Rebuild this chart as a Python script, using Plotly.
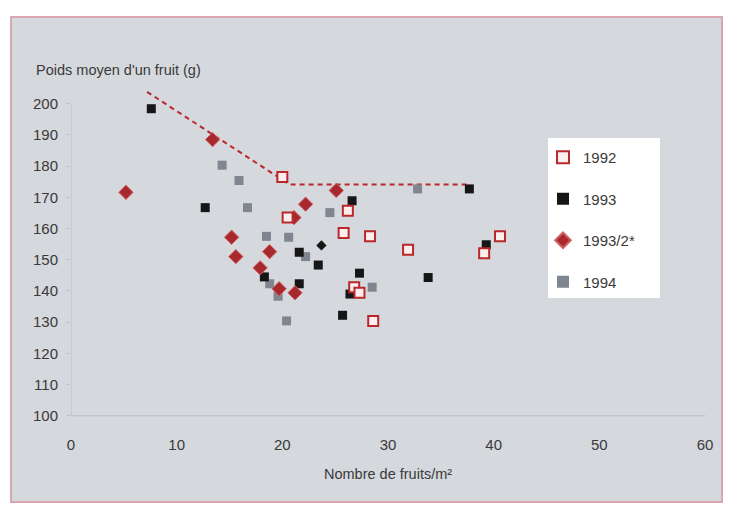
import plotly.graph_objects as go

# --- données (nombre de fruits/m², poids moyen en g) ---
x_1992 = [20.0, 20.5, 26.2, 25.8, 28.3, 31.9, 39.1, 40.6, 26.8, 27.3, 28.6]
y_1992 = [176.5, 163.5, 165.7, 158.6, 157.5, 153.2, 152.1, 157.5, 141.2, 139.4, 130.4]

x_1993 = [7.6, 12.7, 26.6, 37.7, 21.6, 23.4, 18.3, 21.6, 27.3, 26.4, 33.8, 39.3, 25.7]
y_1993 = [198.4, 166.7, 168.9, 172.7, 152.4, 148.3, 144.5, 142.3, 145.7, 139.0, 144.3, 154.8, 132.2]

# petit losange noir isolé
x_1993_pt = [23.7]
y_1993_pt = [154.6]

x_1993_2 = [5.2, 13.4, 25.1, 22.2, 21.1, 15.2, 15.6, 18.8, 17.9, 19.7, 21.2]
y_1993_2 = [171.6, 188.5, 172.2, 167.8, 163.5, 157.2, 151.0, 152.6, 147.4, 140.7, 139.4]

x_1994 = [14.3, 15.9, 16.7, 24.5, 18.5, 20.6, 22.2, 18.8, 19.6, 28.5, 20.4, 32.8]
y_1994 = [180.3, 175.4, 166.7, 165.1, 157.5, 157.2, 151.0, 142.3, 138.3, 141.2, 130.4, 172.7]

# enveloppe (pointillés rouges)
x_enveloppe = [7.2, 20.7, 37.5]
y_enveloppe = [203.8, 174.1, 174.1]

x_ticks = [0, 10, 20, 30, 40, 50, 60]
y_ticks = [100, 110, 120, 130, 140, 150, 160, 170, 180, 190, 200]

W, H = 731, 507
L, R, T, B = 71, 26, 85, 85
X_RANGE = [0, 60]
Y_RANGE = [98, 206]

FONT = "Liberation Sans, Arial, sans-serif"
TXT = "#3a3a3a"
RED = "#b8282c"
BG = "#d5d8dd"
AXE = "#b9bcc3"


def px_x(px):
    """pixel -> coordonnée paper (horizontal)"""
    return (px - L) / (W - L - R)


def px_y(py):
    """pixel -> coordonnée paper (vertical)"""
    return (H - B - py) / (H - T - B)


fig = go.Figure()

fig.add_trace(go.Scatter(
    x=x_enveloppe, y=y_enveloppe, mode="lines",
    line=dict(color=RED, width=2, dash="5px,4px"),
    showlegend=False, hoverinfo="skip",
))
fig.add_trace(go.Scatter(
    x=x_1994, y=y_1994, mode="markers", name="1994", legendrank=4, legendgroup="d",
    marker=dict(symbol="square", size=9, color="#80868f", line=dict(width=0)),
))
fig.add_trace(go.Scatter(
    x=x_1993, y=y_1993, mode="markers", name="1993", legendrank=2, legendgroup="b",
    marker=dict(symbol="square", size=9, color="#161616", line=dict(width=0)),
))
fig.add_trace(go.Scatter(
    x=x_1993_pt, y=y_1993_pt, mode="markers", showlegend=False,
    marker=dict(symbol="diamond", size=8, color="#161616", line=dict(width=0)),
))
fig.add_trace(go.Scatter(
    x=x_1993_2, y=y_1993_2, mode="markers", name="1993/2*", legendrank=3, legendgroup="c",
    marker=dict(symbol="diamond", size=11, color="#a8282e", line=dict(width=1, color="#d06060")),
))
fig.add_trace(go.Scatter(
    x=x_1992, y=y_1992, mode="markers", name="1992", legendrank=1, legendgroup="a",
    marker=dict(symbol="square", size=10, color="#fbeeee", line=dict(width=2, color=RED)),
))

shapes = [
    # cadre extérieur gris à bord rosé
    dict(type="rect", xref="paper", yref="paper", layer="below",
         x0=px_x(11), x1=px_x(722), y0=px_y(502), y1=px_y(17),
         fillcolor=BG, line=dict(color="#d9a7ae", width=2)),
    # fond blanc de la légende
    dict(type="rect", xref="paper", yref="paper", layer="below",
         x0=px_x(548), x1=px_x(660), y0=px_y(298), y1=px_y(138),
         fillcolor="white", line=dict(width=0)),
    # axes discrets
    dict(type="line", xref="x", yref="y", layer="below",
         x0=0, x1=60, y0=100, y1=100, line=dict(color=AXE, width=1)),
    dict(type="line", xref="x", yref="y", layer="below",
         x0=0, x1=0, y0=100, y1=200, line=dict(color=AXE, width=1)),
]

fig.update_layout(
    width=W, height=H,
    margin=dict(l=L, r=R, t=T, b=B),
    paper_bgcolor="white", plot_bgcolor="rgba(0,0,0,0)",
    font=dict(family=FONT, color=TXT, size=15),
    shapes=shapes,
    showlegend=True,
    legend=dict(
        x=px_x(543), y=px_y(141), xanchor="left", yanchor="top",
        bgcolor="rgba(0,0,0,0)", font=dict(size=15, color=TXT),
        tracegroupgap=19, itemsizing="constant",
    ),
    annotations=[
        dict(text="Poids moyen d'un fruit (g)", xref="paper", yref="paper",
             x=px_x(34), y=px_y(70), xanchor="left", yanchor="middle",
             showarrow=False, font=dict(size=14.5, color=TXT)),
        dict(text="Nombre de fruits/m²", xref="paper", yref="paper",
             x=0.5, y=px_y(474), xanchor="center", yanchor="middle",
             showarrow=False, font=dict(size=14.5, color=TXT)),
    ],
)

fig.update_xaxes(
    range=X_RANGE, tickvals=x_ticks, showgrid=False, zeroline=False,
    showline=False, ticks="", ticklabelstandoff=12,
    tickfont=dict(size=15, color=TXT),
)
fig.update_yaxes(
    range=Y_RANGE, tickvals=y_ticks, showgrid=False, zeroline=False,
    showline=False, ticks="outside", ticklen=3, tickcolor=AXE,
    ticklabelstandoff=6, tickfont=dict(size=15, color=TXT),
)

# la page par défaut garde la marge de 8 px du <body>
fig.write_html(
    "out.html",
    config={"displayModeBar": False},
    post_script="document.body.style.margin='0';",
)
